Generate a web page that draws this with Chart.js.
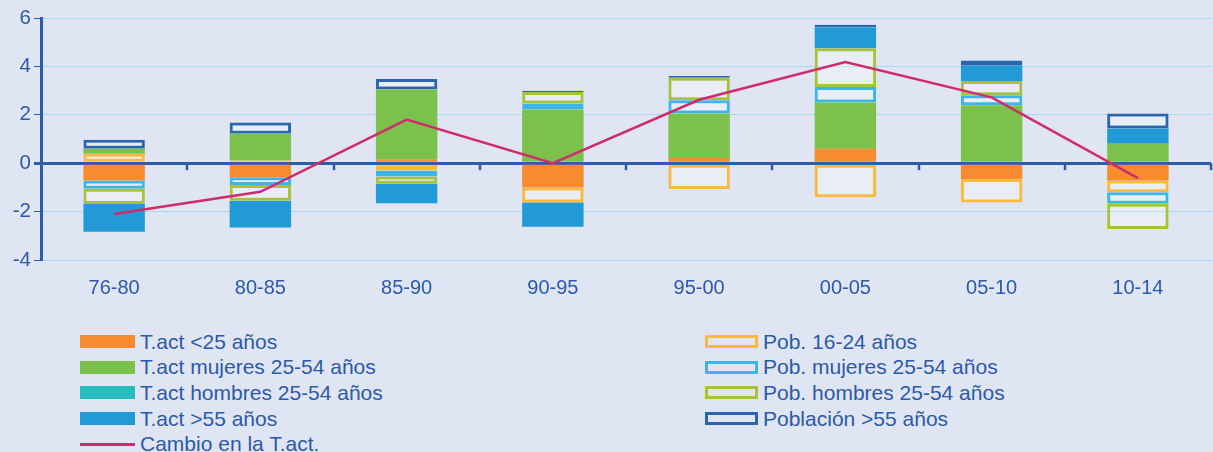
<!DOCTYPE html>
<html lang="es">
<head>
<meta charset="utf-8">
<title>Cambio en la tasa de actividad</title>
<script src="https://cdn.jsdelivr.net/npm/chart.js@4.4.1/dist/chart.umd.min.js"></script>
<style>
    html, body {
        margin: 0;
        padding: 0;
        background: #DFE5F2;
        width: 1213px;
        height: 452px;
        overflow: hidden;
        font-family: 'Liberation Sans', Arial, sans-serif;
    }
    #chart-wrap {
        position: absolute;
        left: 0;
        top: 0;
        width: 1213px;
        height: 316px;
    }
    .legend-col {
        position: absolute;
        top: 329px;
    }
    .legend-item {
        height: 25.6px;
        display: flex;
        align-items: center;
        color: #2C5AA8;
        font-size: 21px;
        white-space: nowrap;
    }
    .swatch {
        width: 55px;
        height: 13px;
        margin-right: 5px;
        box-sizing: border-box;
        flex: none;
    }
</style>
</head>
<body>
<div id="chart-wrap"><canvas id="tactChart"></canvas></div>
<div id="legend-left" class="legend-col" style="left:80px"></div>
<div id="legend-right" class="legend-col" style="left:705px"></div>

<script>
// periodos
const periodos = ['76-80', '80-85', '85-90', '90-95', '95-00', '00-05', '05-10', '10-14'];

// contribuciones de la tasa de actividad (puntos)
const tact25 =     [-0.72, -0.58, 0.14, -1.00, 0.22, 0.60, -0.65, -0.72];
const tactMuj =    [0.21, 1.11, 2.91, 2.22, 1.83, 1.91, 2.39, 0.80];
const tactHom =    [0, 0, 0, 0, 0, 0, 0, 0];
const tact55 =     [-1.14, -1.11, -0.81, -1.01, 0, 0.86, 0.63, 0.63];

// contribuciones de la poblacion
const pob1624 =    [0.39, 0.11, -0.30, -0.62, -1.07, -1.41, -0.97, -0.48];
const pobMuj =     [-0.34, -0.32, -0.25, 0.25, 0.55, 0.64, 0.42, -0.48];
const pobHom =     [-0.63, -0.65, -0.30, 0.47, 0.93, 1.60, 0.59, -1.04];
const pob55 =      [0.37, 0.46, 0.43, 0.05, 0.07, 0.11, 0.21, 0.62];

// cambio total
const cambioTact = [-2.10, -1.18, 1.80, 0.00, 2.62, 4.18, 2.72, -0.62];

const yTicks = [-4, -2, 0, 2, 4, 6];

const azulEje = '#2D5DA9';
const azulRejilla = '#A8D9F2';
const azulTexto = '#2C5AA8';

function barraLlena(label, data, color) {
    return {
        type: 'bar',
        label: label,
        data: data,
        backgroundColor: color,
        borderWidth: 0,
        stack: 'total',
        legendKind: 'fill'
    };
}

function barraHueca(label, data, color) {
    return {
        type: 'bar',
        label: label,
        data: data,
        backgroundColor: 'rgba(255, 255, 255, 0.3)',
        borderColor: color,
        borderWidth: 3,
        borderSkipped: false,
        stack: 'total',
        legendKind: 'box'
    };
}

// marcas bajo la linea del cero entre periodos
const marcasCero = {
    id: 'marcasCero',
    beforeDatasetsDraw(chart) {
        const ctx = chart.ctx;
        const x = chart.scales.x;
        const y0 = chart.scales.y.getPixelForValue(0);
        ctx.save();
        ctx.strokeStyle = azulEje;
        ctx.lineWidth = 2.5;
        for (let i = 1; i <= periodos.length; i++) {
            const xa = x.getPixelForValue(i - 1);
            const xb = i < periodos.length ? x.getPixelForValue(i) : xa + (xa - x.getPixelForValue(i - 2));
            const xm = Math.round((xa + xb) / 2);
            ctx.beginPath();
            ctx.moveTo(xm, y0);
            ctx.lineTo(xm, y0 + 7);
            ctx.stroke();
        }
        ctx.restore();
    }
};

let tactChart;

function initializeChart() {
    Chart.defaults.font.family = "'Liberation Sans', Arial, sans-serif";
    Chart.defaults.color = azulTexto;

    const ctx = document.getElementById('tactChart').getContext('2d');
    tactChart = new Chart(ctx, {
        data: {
            labels: periodos,
            datasets: [
                barraLlena('T.act <25 años', tact25, '#F68B2F'),
                barraHueca('Pob. 16-24 años', pob1624, '#FDB83E'),
                barraLlena('T.act mujeres 25-54 años', tactMuj, '#7DC14D'),
                barraHueca('Pob. mujeres 25-54 años', pobMuj, '#3BB6E6'),
                barraLlena('T.act hombres 25-54 años', tactHom, '#27BEC0'),
                barraHueca('Pob. hombres 25-54 años', pobHom, '#A8C23C'),
                barraLlena('T.act >55 años', tact55, '#219AD6'),
                barraHueca('Población >55 años', pob55, '#2867B0'),
                {
                    type: 'line',
                    label: 'Cambio en la T.act.',
                    data: cambioTact,
                    borderColor: '#CF2C6B',
                    borderWidth: 2.5,
                    pointRadius: 0,
                    tension: 0,
                    fill: false,
                    stack: 'linea',
                    order: -1,
                    legendKind: 'line'
                }
            ]
        },
        options: {
            responsive: true,
            maintainAspectRatio: false,
            animation: false,
            layout: { padding: { top: 18, right: 2, left: 0, bottom: 0 } },
            datasets: {
                bar: { categoryPercentage: 1, barPercentage: 0.42 }
            },
            plugins: {
                legend: { display: false },
                tooltip: { enabled: false }
            },
            scales: {
                x: {
                    stacked: true,
                    grid: { display: false, drawTicks: false },
                    border: { display: false },
                    ticks: { padding: 16, font: { size: 20 }, color: azulTexto }
                },
                y: {
                    stacked: true,
                    min: -4,
                    max: 6,
                    afterBuildTicks: scale => {
                        scale.ticks = yTicks.map(v => ({ value: v }));
                    },
                    afterFit: scale => { scale.width = 41; },
                    grid: {
                        color: c => c.tick && c.tick.value === 0 ? azulEje : azulRejilla,
                        lineWidth: c => c.tick && c.tick.value === 0 ? 3 : 1,
                        tickColor: azulEje,
                        tickLength: 7
                    },
                    border: { color: azulEje, width: 3 },
                    ticks: { padding: 3, font: { size: 20.5 }, color: azulTexto }
                }
            }
        },
        plugins: [marcasCero]
    });
}

function buildLegend() {
    const datasets = tactChart.data.datasets;
    const left = document.getElementById('legend-left');
    const right = document.getElementById('legend-right');
    datasets.forEach((ds, i) => {
        const item = document.createElement('div');
        item.className = 'legend-item';
        const sw = document.createElement('span');
        sw.className = 'swatch';
        if (ds.legendKind === 'fill') {
            sw.style.background = ds.backgroundColor;
        } else if (ds.legendKind === 'box') {
            sw.style.border = '3px solid ' + ds.borderColor;
            sw.style.width = '53px';
        } else {
            sw.style.height = '3px';
            sw.style.background = ds.borderColor;
        }
        item.appendChild(sw);
        const txt = document.createElement('span');
        txt.textContent = ds.label;
        item.appendChild(txt);
        // columnas: T.act a la izquierda, poblacion a la derecha
        (ds.legendKind === 'box' ? right : left).appendChild(item);
    });
}

window.onload = () => {
    initializeChart();
    buildLegend();
};
</script>
</body>
</html>
